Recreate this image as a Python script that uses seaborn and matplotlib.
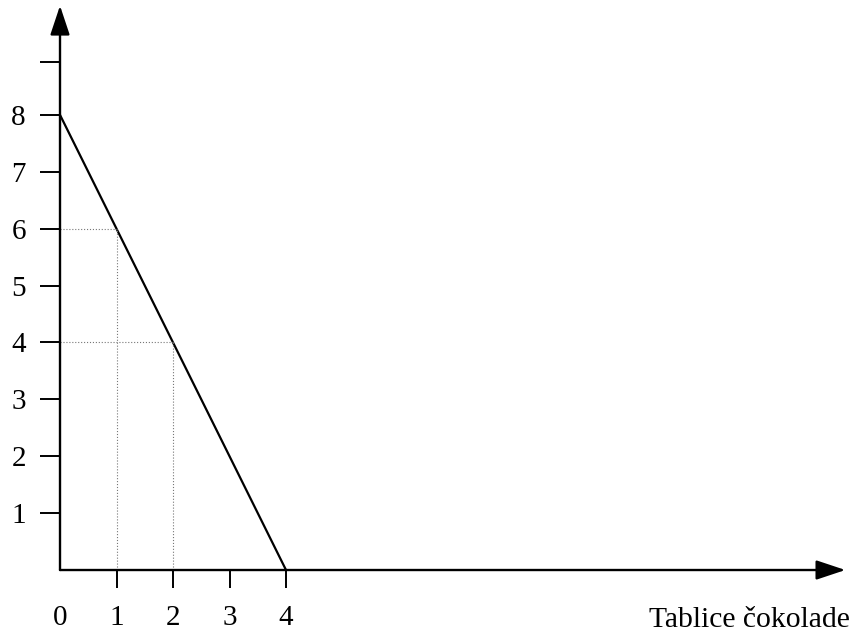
import matplotlib
matplotlib.use("Agg")
import matplotlib.pyplot as plt
import seaborn as sns
import pandas as pd

# budget line: chocolate bars vs other good
line_x = [0, 4]
line_y = [8, 0]

# helper points marked with dotted guides
guide_x = [1, 2]
guide_y = [6, 4]

x_ticks = [0, 1, 2, 3, 4]
y_ticks = [1, 2, 3, 4, 5, 6, 7, 8]
y_extra_tick = 8.93  # unlabelled tick above 8
x_axis_end = 13.9
y_axis_end = 9.92
x_label = "Tablice čokolade"

sns.set_theme(style="white")
plt.rcParams["font.family"] = ["Liberation Serif", "DejaVu Serif"]
plt.rcParams["text.color"] = "black"
plt.rcParams["xtick.labelcolor"] = "black"
plt.rcParams["ytick.labelcolor"] = "black"

fig = plt.figure(figsize=(8.55, 6.36), dpi=100)
ax = fig.add_axes([0, 0, 1, 1])
ax.set_xlim(-1.062, 14.07)
ax.set_ylim(-1.16, 10.02)

df = pd.DataFrame({"x": line_x, "y": line_y})
sns.lineplot(data=df, x="x", y="y", ax=ax, color="black", lw=1.6)

# dotted guides
for gx, gy in zip(guide_x, guide_y):
    ax.plot([0, gx], [gy, gy], color="#777777", lw=0.8, ls=":")
    ax.plot([gx, gx], [0, gy], color="#777777", lw=0.8, ls=":")

# axes with arrow heads
arrow = dict(arrowstyle="-|>,head_length=0.9,head_width=0.3", lw=1.7,
             color="black", shrinkA=0, shrinkB=0, mutation_scale=20)
ax.annotate("", xy=(0, y_axis_end), xytext=(0, 0), arrowprops=arrow)
ax.annotate("", xy=(x_axis_end, 0), xytext=(0, 0), arrowprops=arrow)

for s in ax.spines.values():
    s.set_visible(False)
ax.spines["left"].set_position(("data", 0))
ax.spines["bottom"].set_position(("data", 0))

ax.set_yticks(y_ticks + [y_extra_tick])
ax.set_yticklabels([str(v) for v in y_ticks] + [""])
ax.set_xticks(x_ticks)
ax.set_xticklabels([str(v) for v in x_ticks])
ax.tick_params(axis="y", direction="out", length=14.5, width=1.4,
               color="black", labelcolor="black", labelsize=21, pad=10, left=True)
ax.tick_params(axis="x", direction="out", length=13, width=1.4,
               color="black", labelcolor="black", labelsize=21, pad=12, bottom=True)
ax.xaxis.get_major_ticks()[0].tick1line.set_visible(False)
ax.set_xlabel("")
ax.set_ylabel("")

ax.text(13.98, -1.0, x_label, ha="right", va="baseline", fontsize=21.3,
        color="black")

fig.savefig("out.png", dpi=100)
